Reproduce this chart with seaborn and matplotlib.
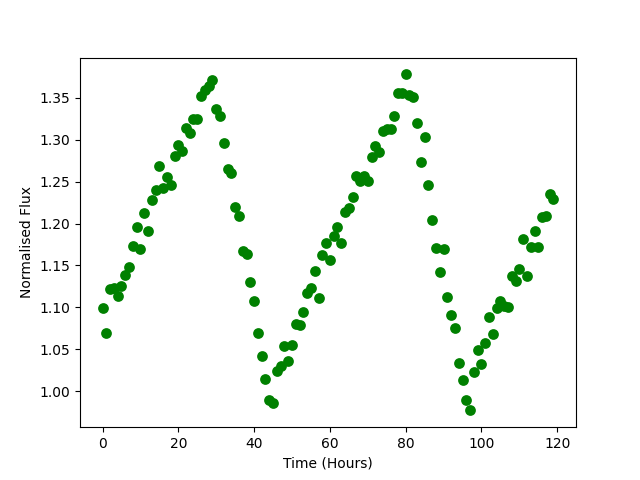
import numpy as np
import pandas as pd
import matplotlib
matplotlib.use("Agg")
import matplotlib.pyplot as plt
import seaborn as sns

# Hourly flux readings
hours = np.arange(120)
flux = [1.099, 1.069, 1.122, 1.123, 1.114, 1.126, 1.138, 1.148, 1.173, 1.196,
        1.170, 1.213, 1.191, 1.228, 1.240, 1.269, 1.243, 1.256, 1.246, 1.281,
        1.294, 1.287, 1.314, 1.308, 1.325, 1.325, 1.352, 1.359, 1.364, 1.371,
        1.337, 1.328, 1.296, 1.265, 1.260, 1.220, 1.209, 1.167, 1.164, 1.130,
        1.107, 1.069, 1.042, 1.014, 0.990, 0.986, 1.024, 1.030, 1.054, 1.036,
        1.055, 1.080, 1.079, 1.094, 1.117, 1.123, 1.143, 1.111, 1.162, 1.177,
        1.156, 1.185, 1.196, 1.177, 1.214, 1.218, 1.232, 1.257, 1.251, 1.257,
        1.251, 1.280, 1.293, 1.285, 1.311, 1.313, 1.313, 1.328, 1.356, 1.356,
        1.378, 1.354, 1.351, 1.320, 1.274, 1.303, 1.246, 1.204, 1.171, 1.142,
        1.170, 1.112, 1.091, 1.075, 1.033, 1.013, 0.989, 0.977, 1.023, 1.049,
        1.032, 1.057, 1.089, 1.068, 1.099, 1.107, 1.102, 1.100, 1.137, 1.132,
        1.146, 1.182, 1.137, 1.172, 1.191, 1.172, 1.208, 1.209, 1.235, 1.229]

df = pd.DataFrame({"Time": hours, "Flux": flux})

fig, ax = plt.subplots(figsize=(6.4, 4.8), dpi=100)
sns.scatterplot(data=df, x="Time", y="Flux", color="green", s=60,
                edgecolor="green", linewidth=0, ax=ax)
ax.set_xlabel("Time (Hours)")
ax.set_ylabel("Normalised Flux")
fig.savefig("out.png")
